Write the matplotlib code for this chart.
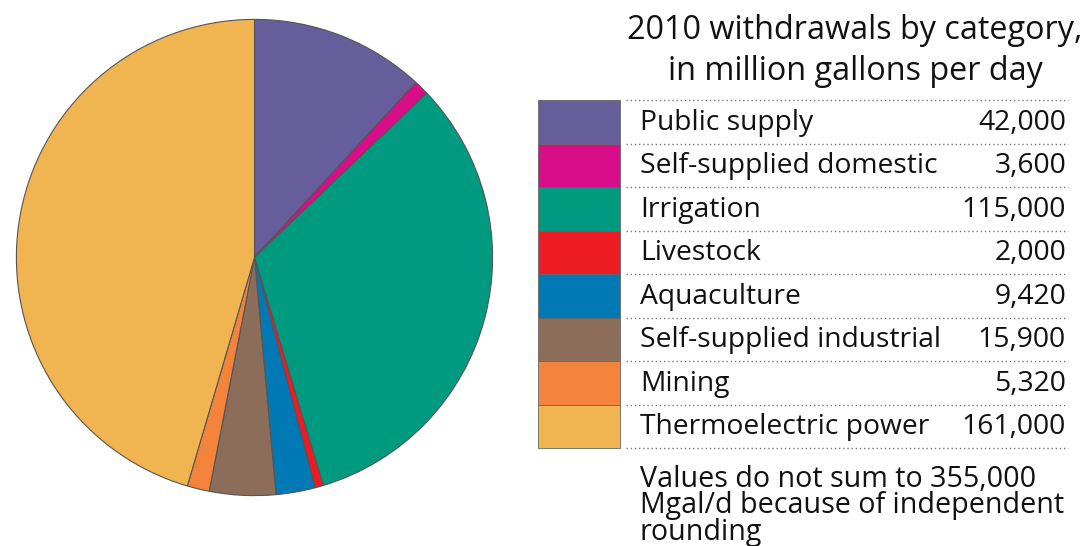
import matplotlib
matplotlib.use('Agg')
import matplotlib.pyplot as plt
from matplotlib.patches import Rectangle

categories = ['Public supply', 'Self-supplied domestic', 'Irrigation', 'Livestock',
              'Aquaculture', 'Self-supplied industrial', 'Mining', 'Thermoelectric power']
values = [42000, 3600, 115000, 2000, 9420, 15900, 5320, 161000]
value_labels = ['42,000', '3,600', '115,000', '2,000', '9,420', '15,900', '5,320', '161,000']
colors = ['#655e9b', '#d90d8a', '#009a80', '#ed1c24', '#0079b5', '#8c6d5a', '#f4843b', '#f0b550']

title = '2010 withdrawals by category,\nin million gallons per day'
note = 'Values do not sum to 355,000\nMgal/d because of independent\nrounding'

plt.rcParams['font.family'] = ['Open Sans', 'DejaVu Sans']

W, H = 1088, 546
fig = plt.figure(figsize=(W / 100, H / 100), dpi=100)

# pie
ax = fig.add_axes([14 / W, (H - 498) / H, 481 / W, 481 / H])
ax.pie(values, colors=colors, startangle=90, counterclock=False, radius=1,
       wedgeprops=dict(edgecolor='#555555', linewidth=0.8))
ax.set_xlim(-1.01, 1.01)
ax.set_ylim(-1.01, 1.01)
ax.set_aspect('equal')
ax.axis('off')

# legend table, pixel coords
lx = fig.add_axes([0, 0, 1, 1])
lx.set_xlim(0, W)
lx.set_ylim(H, 0)
lx.axis('off')

top, row_h = 100, 43.5
for i, (cat, val, col) in enumerate(zip(categories, value_labels, colors)):
    y0 = top + i * row_h
    lx.add_patch(Rectangle((538, y0), 82, row_h, facecolor=col, edgecolor='#666666', linewidth=0.6))
    lx.text(640, y0 + row_h / 2 + 1, cat, fontsize=20.3, va='center', ha='left', color='#111111')
    lx.text(1066, y0 + row_h / 2 + 1, val, fontsize=20.3, va='center', ha='right', color='#111111')
for i in range(len(categories) + 1):
    y = top + i * row_h
    lx.plot([626, 1068], [y, y], linestyle=(0, (1, 2)), color='#777777', linewidth=1)

lx.text(855, 51, title, fontsize=23.3, ha='center', va='center', linespacing=1.3, color='#111111')
lx.text(640, 506, note, fontsize=20.6, ha='left', va='center', linespacing=0.9, color='#111111')

fig.savefig('out.png', dpi=100)
